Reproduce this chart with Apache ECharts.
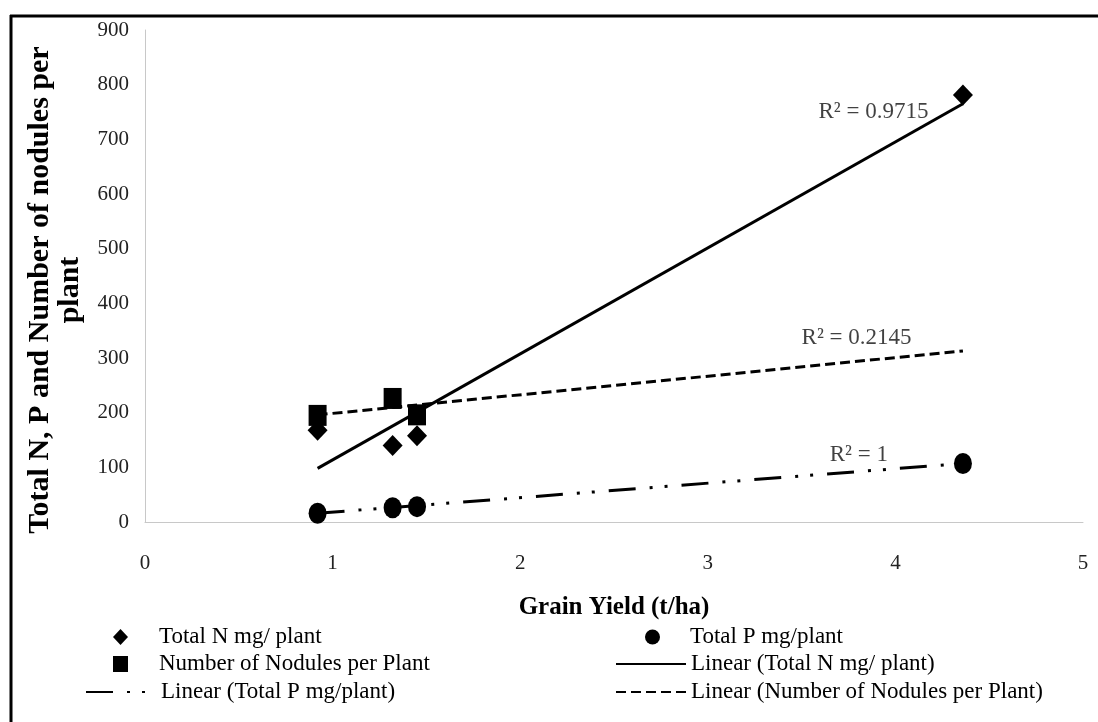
<!DOCTYPE html>
<html>
<head>
<meta charset="utf-8">
<script src="https://cdn.jsdelivr.net/npm/echarts@6/dist/echarts.min.js"></script>
<style>
  html, body { margin: 0; padding: 0; background: #fff; }
  #chart { width: 1098px; height: 722px; }
</style>
</head>
<body>
<div id="chart"></div>
<script>
  // points
  const grainYield = [0.92, 1.32, 1.45, 4.36];
  const totalN = [168, 140, 158, 781];
  const totalP = [16, 26, 28, 107];
  const nodulesYield = [0.92, 1.32, 1.45];
  const nodules = [195, 226, 196];

  // excel trendline end points
  const trendX = [0.92, 4.36];
  const trendN = [98, 765];
  const trendP = [16, 107];
  const trendNodules = [196, 313];

  // R² annotations
  const r2X = [3.59, 3.50, 3.65];
  const r2Y = [750, 336, 122];
  const r2Text = ['R² = 0.9715', 'R² = 0.2145', 'R² = 1'];

  const xTicks = [0, 1, 2, 3, 4, 5];
  const yMax = 900;

  const serif = "'Liberation Serif', 'Times New Roman', serif";

  function pairs(xs, ys) {
    return xs.map((x, i) => [x, ys[i]]);
  }

  let chart = echarts.init(document.getElementById('chart'));

  // marker entries: small icon, text pushed right with padding
  function markerLegend(name, left, top, pad) {
    return {
      data: [name],
      left: left,
      top: top,
      itemWidth: 15,
      itemHeight: 16,
      selectedMode: false,
      textStyle: { fontFamily: serif, fontSize: 23, lineHeight: 24, color: '#000', padding: [0, 0, 0, pad] }
    };
  }

  // trendline entries: long line icon, hide the circle echarts puts on it
  function lineLegend(name, left, top) {
    return {
      data: [name],
      left: left,
      top: top,
      itemWidth: 70,
      itemHeight: 14,
      selectedMode: false,
      itemStyle: { color: 'transparent', borderWidth: 0 },
      textStyle: { fontFamily: serif, fontSize: 23, lineHeight: 24, color: '#000' }
    };
  }

  chart.setOption({
    animation: false,
    backgroundColor: '#fff',
    graphic: [
      { type: 'line', shape: { x1: 10, y1: 16, x2: 1098, y2: 16 }, style: { stroke: '#000', lineWidth: 3 } },
      { type: 'line', shape: { x1: 11, y1: 15, x2: 11, y2: 722 }, style: { stroke: '#000', lineWidth: 3 } },
      {
        type: 'text',
        x: 55,
        y: 290,
        rotation: Math.PI / 2,
        style: {
          text: 'Total N, P and Number of nodules per\nplant',
          fontFamily: serif,
          fontSize: 30,
          fontWeight: 'bold',
          lineHeight: 30,
          fill: '#000',
          textAlign: 'center',
          textVerticalAlign: 'middle'
        }
      }
    ],
    grid: { left: 145, right: 15, top: 30, bottom: 200 },
    legend: [
      markerLegend('Total N mg/ plant', 108, 620, 26),
      markerLegend('Number of Nodules per Plant', 108, 647, 26),
      lineLegend('Linear (Total P mg/plant)', 80, 675),
      markerLegend('Total P mg/plant', 640, 620, 25),
      lineLegend('Linear (Total N mg/ plant)', 610, 647),
      lineLegend('Linear (Number of Nodules per Plant)', 610, 675)
    ],
    xAxis: {
      type: 'value',
      min: xTicks[0],
      max: xTicks[xTicks.length - 1],
      interval: 1,
      name: 'Grain Yield (t/ha)',
      nameLocation: 'middle',
      nameGap: 73,
      nameTextStyle: { fontFamily: serif, fontSize: 25, fontWeight: 'bold', color: '#000' },
      axisLine: { lineStyle: { color: '#c8c8c8', width: 1 } },
      axisTick: { show: false },
      splitLine: { show: false },
      axisLabel: { fontFamily: serif, fontSize: 21, color: '#222', margin: 31 }
    },
    yAxis: {
      type: 'value',
      min: 0,
      max: yMax,
      interval: 100,
      axisLine: { show: true, lineStyle: { color: '#c8c8c8', width: 1 } },
      axisTick: { show: false },
      splitLine: { show: false },
      axisLabel: { fontFamily: serif, fontSize: 21, color: '#222', margin: 16 }
    },
    series: [
      {
        name: 'Linear (Total N mg/ plant)',
        type: 'line',
        data: pairs(trendX, trendN),
        symbol: 'none',
        lineStyle: { color: '#000', width: 3 },
        itemStyle: { color: '#000' },
        z: 3
      },
      {
        name: 'Linear (Number of Nodules per Plant)',
        type: 'line',
        data: pairs(trendX, trendNodules),
        symbol: 'none',
        lineStyle: { color: '#000', width: 3, type: [10, 5] },
        itemStyle: { color: '#000' },
        z: 3
      },
      {
        name: 'Linear (Total P mg/plant)',
        type: 'line',
        data: pairs(trendX, trendP),
        symbol: 'none',
        lineStyle: { color: '#000', width: 3, type: [27, 14, 3, 12, 3, 14] },
        itemStyle: { color: '#000' },
        z: 3
      },
      {
        name: 'Total N mg/ plant',
        type: 'scatter',
        symbol: 'diamond',
        symbolSize: [20, 21],
        data: pairs(grainYield, totalN),
        itemStyle: { color: '#000', opacity: 1 },
        z: 4
      },
      {
        name: 'Total P mg/plant',
        type: 'scatter',
        symbol: 'circle',
        symbolSize: [18, 21],
        data: pairs(grainYield, totalP),
        itemStyle: { color: '#000', opacity: 1 },
        z: 4
      },
      {
        name: 'Number of Nodules per Plant',
        type: 'scatter',
        symbol: 'rect',
        symbolSize: [18, 21],
        data: pairs(nodulesYield, nodules),
        itemStyle: { color: '#000', opacity: 1 },
        z: 4
      },
      {
        name: 'r2',
        type: 'scatter',
        symbolSize: 0,
        silent: true,
        data: r2X.map((x, i) => ({ value: [x, r2Y[i]], name: r2Text[i] })),
        label: {
          show: true,
          position: [0, 0],
          align: 'left',
          verticalAlign: 'middle',
          formatter: p => p.name,
          fontFamily: serif,
          fontSize: 23,
          color: '#111'
        },
        z: 5
      }
    ]
  });
</script>
</body>
</html>
